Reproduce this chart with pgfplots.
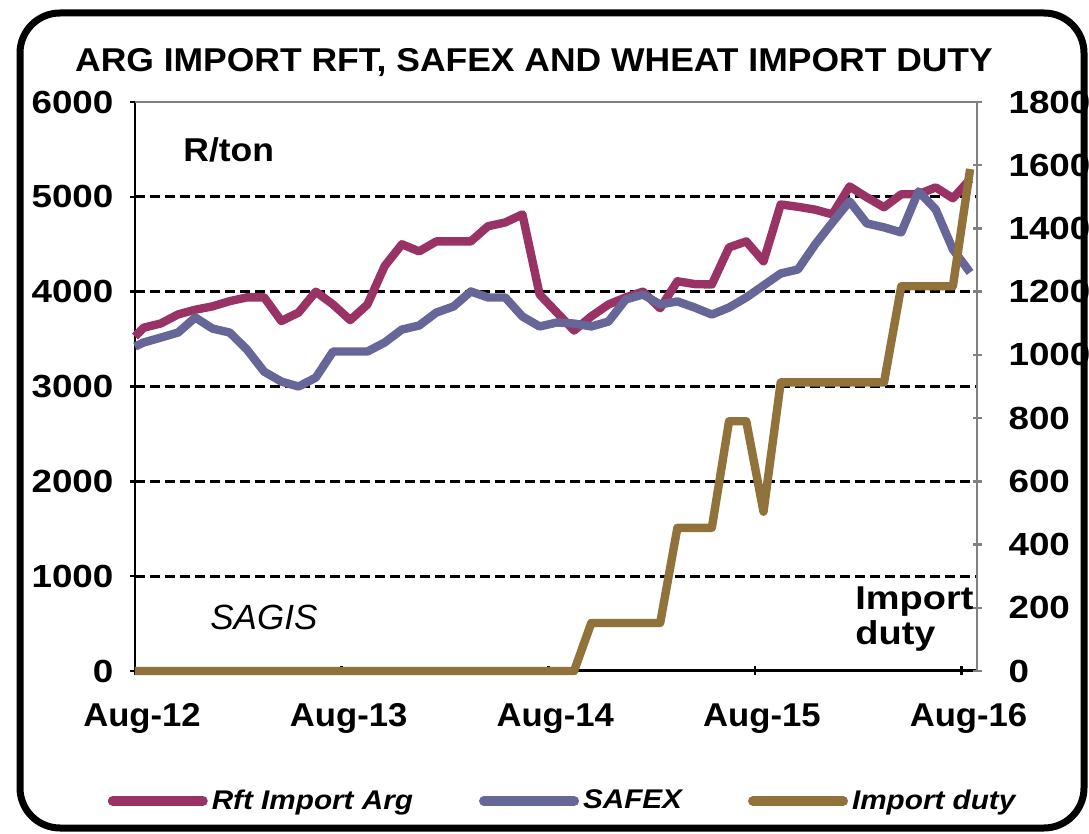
\documentclass[border=0pt]{standalone}
\usepackage{pgfplots}
\pgfplotsset{compat=1.18}
\usepackage{fontspec}
\setmainfont{Liberation Sans}
\newfontfamily\stretchfont{Liberation Sans}[FakeStretch=1.15]
\newfontfamily\xfont{Liberation Sans}[FakeStretch=1.05]
\newfontfamily\titlefont{Liberation Sans}[FakeStretch=1.075]
\newfontfamily\legfont{Liberation Sans}[FakeStretch=1.1]
\newcommand\tickf{\stretchfont\bfseries\fontsize{16}{18}\selectfont}
\newcommand\xtickf{\xfont\bfseries\fontsize{16.5}{18}\selectfont}
\newcommand\titlef{\titlefont\bfseries\fontsize{16.5}{19}\selectfont}
\newcommand\rtonf{\titlefont\bfseries\fontsize{16.5}{19}\selectfont}
\newcommand\legf{\legfont\bfseries\itshape\fontsize{13.5}{15}\selectfont}
\definecolor{rft}{RGB}{153,51,102}
\definecolor{safex}{RGB}{102,102,153}
\definecolor{duty}{RGB}{145,114,58}
\definecolor{axgray}{RGB}{128,128,128}

\pgfplotstableread{
x y
0 3527
0.5 3620
1.5 3665
2.5 3760
3.5 3810
4.5 3845
5.5 3900
6.5 3940
7.5 3940
8.5 3690
9.5 3780
10.5 4000
11.5 3865
12.5 3700
13.5 3865
14.5 4270
15.5 4500
16.5 4425
17.5 4530
18.5 4530
19.5 4530
20.5 4690
21.5 4730
22.5 4815
23.5 3970
24.5 3780
25.5 3590
26.5 3740
27.5 3865
28.5 3940
29.5 4000
30.5 3825
31.5 4110
32.5 4080
33.5 4076
34.5 4467
35.5 4530
36.5 4320
37.5 4920
38.5 4895
39.5 4865
40.5 4815
41.5 5110
42.5 4995
43.5 4890
44.5 5027
45.5 5027
46.5 5100
47.5 4985
48.5 5185
}\rfttable

\pgfplotstableread{
x y
0 3421
0.5 3464
1.5 3516
2.5 3569
3.5 3728
4.5 3611
5.5 3569
6.5 3390
7.5 3157
8.5 3052
9.5 3000
10.5 3094
11.5 3369
12.5 3369
13.5 3369
14.5 3464
15.5 3601
16.5 3643
17.5 3780
18.5 3844
19.5 4002
20.5 3939
21.5 3939
22.5 3738
23.5 3633
24.5 3675
25.5 3664
26.5 3633
27.5 3685
28.5 3918
29.5 3970
30.5 3865
31.5 3897
32.5 3833
33.5 3759
34.5 3833
35.5 3939
36.5 4065
37.5 4192
38.5 4234
39.5 4498
40.5 4730
41.5 4953
42.5 4720
43.5 4678
44.5 4625
45.5 5058
46.5 4868
47.5 4446
48.5 4203
}\safextable

\pgfplotstableread{
x y
0 0
0.5 0
1.5 0
2.5 0
3.5 0
4.5 0
5.5 0
6.5 0
7.5 0
8.5 0
9.5 0
10.5 0
11.5 0
12.5 0
13.5 0
14.5 0
15.5 0
16.5 0
17.5 0
18.5 0
19.5 0
20.5 0
21.5 0
22.5 0
23.5 0
24.5 0
25.5 0
26.5 152
27.5 152
28.5 152
29.5 152
30.5 152
31.5 453
32.5 453
33.5 453
34.5 790
35.5 790
36.5 504
37.5 913
38.5 913
39.5 913
40.5 913
41.5 913
42.5 913
43.5 913
44.5 1217
45.5 1217
46.5 1217
47.5 1217
48.5 1588
}\dutytable

\pgfplotsset{
  common/.style={
    at={(67.5pt,-335.5pt)}, anchor=south west,
    scale only axis, width=421pt, height=284.5pt,
    xmin=0, xmax=48.9, clip=false,
    tick align=outside, major tick length=4.5pt,
    ticklabel style={font=\tickf},
    /pgf/number format/assume math mode=true,
    /pgf/number format/set thousands separator={},
  }
}

\begin{document}
\begin{tikzpicture}
\useasboundingbox (0,0) rectangle (544.5pt,-417pt);
\draw[line width=3.5pt, rounded corners=20pt] (10pt,-6.5pt) rectangle (542pt,-414pt);

\begin{axis}[common,
  ymin=0, ymax=6000,
  axis x line=bottom, axis y line=left,
  axis line style={-},
  x axis line style={line width=1.5pt,-},
  y axis line style={line width=1.25pt,-},
  every outer x axis line/.append style={-},
  every outer y axis line/.append style={-},
  tick style={black, line width=1.25pt},
  xtick={0,12,24,36,48},
  xticklabels={Aug-12,Aug-13,Aug-14,Aug-15,Aug-16},
  ytick={0,1000,...,6000},
  yticklabel style={xshift=-5pt},
  xticklabel style={font=\xtickf, yshift=-10.5pt, xshift=3.5pt},
]
\pgfplotsinvokeforeach{1000,2000,3000,4000,5000}{
  \draw[black, line width=1.5pt, dash pattern=on 5pt off 2.5pt] (axis cs:0,#1) -- (axis cs:48.9,#1);
}
\addplot[rft, line width=4.2pt, line join=round, mark=none] table[x=x,y=y] {\rfttable};
\addplot[safex, line width=4.2pt, line join=round, mark=none] table[x=x,y=y] {\safextable};
\end{axis}

\begin{axis}[common,
  ymin=0, ymax=1800,
  axis x line=none, axis y line=right,
  axis line style={-},
  y axis line style={axgray, line width=1.25pt,-},
  every outer y axis line/.append style={-},
  ytick style={axgray, line width=1.25pt},
  ytick={0,200,...,1800},
  yticklabel style={xshift=10pt},
  legend columns=3,
  legend style={at={(0.509,-0.2285)}, anchor=center, draw=none, fill=none,
    font=\legf, inner sep=0pt,
    /tikz/every even column/.append style={column sep=31pt}},
  legend image code/.code={\draw[#1, line width=5pt, line cap=round] (0pt,0pt) -- (45pt,0pt);},
]
\draw[axgray, line width=1.1pt] (rel axis cs:0,1) -- (rel axis cs:1,1);
\addlegendimage{rft, line width=4.2pt}
\addlegendentry{Rft Import Arg}
\addlegendimage{safex, line width=4.2pt}
\addlegendentry{SAFEX}
\addplot[duty, line width=4.2pt, line join=round, mark=none] table[x=x,y=y] {\dutytable};
\addlegendentry{Import duty}
\end{axis}

\node[anchor=base, inner sep=0pt, font=\titlef] at (267pt,-36pt) {ARG IMPORT RFT, SAFEX AND WHEAT IMPORT DUTY};
\node[anchor=base west, inner sep=0pt, font=\rtonf] at (91.5pt,-81pt) {R/ton};
\node[anchor=base west, inner sep=0pt, font=\itshape\fontsize{17.5}{20}\selectfont] at (105pt,-315pt) {SAGIS};
\node[anchor=base west, inner sep=0pt, font=\stretchfont\bfseries\fontsize{16.5}{19}\selectfont] at (427.5pt,-305pt) {Import};
\node[anchor=base west, inner sep=0pt, font=\stretchfont\bfseries\fontsize{16.5}{19}\selectfont] at (427.5pt,-322.5pt) {duty};
\end{tikzpicture}
\end{document}
